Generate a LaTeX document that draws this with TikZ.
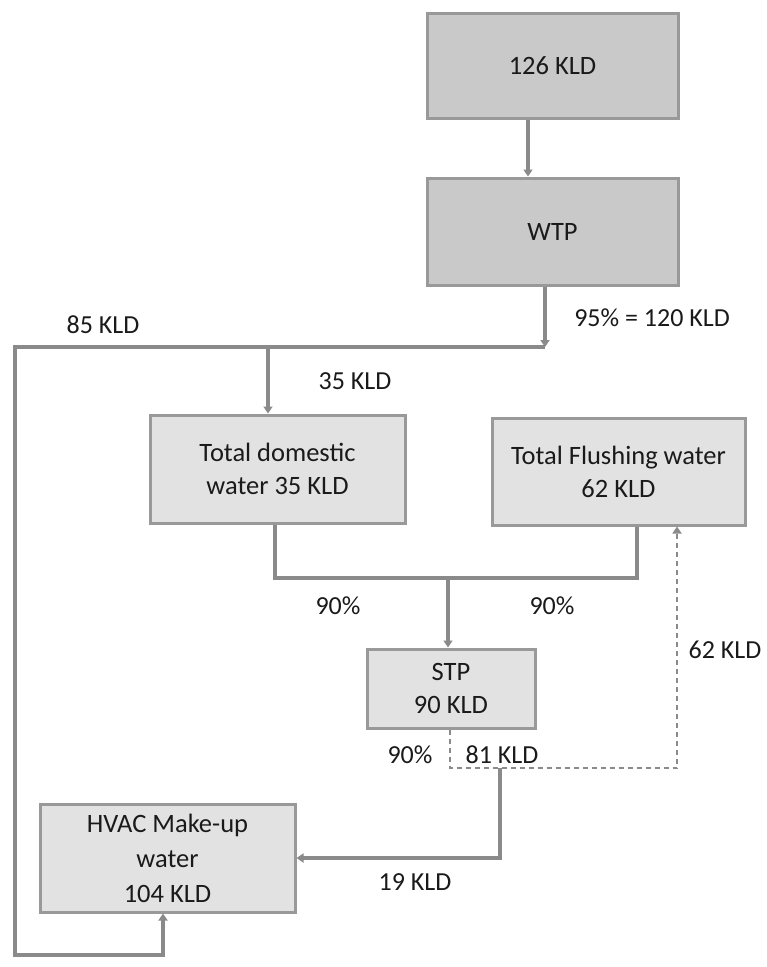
\documentclass[tikz,border=0pt]{standalone}
\usepackage{fontspec}
\setmainfont{Carlito}
\usetikzlibrary{arrows.meta,calc}
\definecolor{linegray}{HTML}{8A8A8A}
\definecolor{boxedge}{HTML}{999999}
\definecolor{darkfill}{HTML}{C9C9C9}
\definecolor{lightfill}{HTML}{E2E2E2}
\definecolor{txt}{HTML}{1A1A1A}
\begin{document}
\begin{tikzpicture}[x=1pt,y=-1pt,
  basebox/.style={draw=boxedge, line width=3pt, inner sep=0pt, align=center, text=txt,
    font=\fontsize{26.5}{33}\selectfont},
  topbox/.style={basebox, fill=darkfill},
  lowbox/.style={basebox, fill=lightfill},
  line/.style={draw=linegray, line width=3.2pt},
  flow/.style={line, -{Triangle[width=9pt,length=7pt]}},
  dflow/.style={draw=linegray, line width=2.4pt, dash pattern=on 5pt off 4pt, -{Triangle[width=9pt,length=7pt]}},
  lbl/.style={text=txt, font=\fontsize{26}{30}\selectfont, inner sep=1pt}]
\useasboundingbox (0,0) rectangle (767,967);

% boxes
\node[topbox, minimum width=251pt, minimum height=105pt] (src) at (552.5,65.5) {126 KLD};
\node[topbox, minimum width=251pt, minimum height=107pt] (wtp) at (552.5,231.5) {WTP};
\node[lowbox, minimum width=255pt, minimum height=108pt] (dom) at (277.5,469) {Total domestic\\water 35 KLD};
\node[lowbox, minimum width=253pt, minimum height=107pt] (flush) at (618.5,471.5) {Total Flushing water\\62 KLD};
\node[lowbox, minimum width=168pt, minimum height=79pt] (stp) at (451,688.5) {STP\\90 KLD};
\node[lowbox, minimum width=255pt, minimum height=108pt, font=\fontsize{26.5}{35}\selectfont] (hvac) at (167.5,858) {HVAC Make-up\\water\\104 KLD};

% coordinates
\coordinate (j1) at (545,347);
\coordinate (lt) at (15,347);
\coordinate (lb) at (15,955);
\coordinate (jd) at (268,347);
\coordinate (m1) at (275,578);
\coordinate (m2) at (637,578);
\coordinate (j2) at (448,578);
\coordinate (d1) at (450,768);
\coordinate (d2) at (677,768);
\coordinate (s1) at (500,768);

% connectors
\draw[flow] ([xshift=-24.5pt]src.south) -- ([xshift=-24.5pt]wtp.north);
\draw[flow] (wtp.south -| j1) -- (j1);
\draw[flow] (j1) -- (lt) -- (lb) -| ([xshift=-4.5pt]hvac.south);
\draw[flow] (jd) -- (jd |- dom.north);
\draw[line] (dom.south -| m1) -- (m1) -- (m2) -- (m2 |- flush.south);
\draw[flow] (j2) -- (j2 |- stp.north);
\draw[dflow] (d1 |- stp.south) -- (d1) -- (d2) -- (d2 |- flush.south);
\draw[flow] (s1) |- (hvac.east);

% labels
\node[lbl] (l1) at (652,318) {95\% = 120 KLD};
\node[lbl] (l2) at (103,325) {85 KLD};
\node[lbl] (l3) at (355,381) {35 KLD};
\node[lbl] (l4) at (338,606) {90\%};
\node[lbl] (l5) at (552,606) {90\%};
\node[lbl] (l6) at (725,650) {62 KLD};
\node[lbl] (l7) at (410,755) {90\%};
\node[lbl] (l8) at (502,755) {81 KLD};
\node[lbl] (l9) at (415,882) {19 KLD};
\end{tikzpicture}
\end{document}
